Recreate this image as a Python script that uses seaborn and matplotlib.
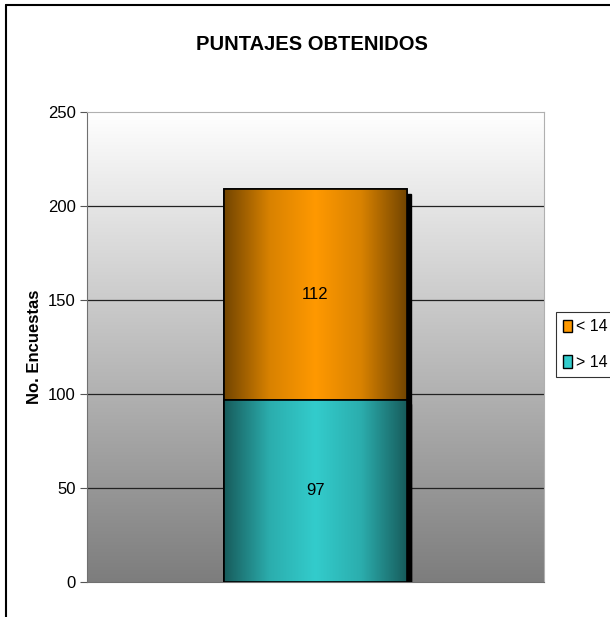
import numpy as np
import pandas as pd
import matplotlib.pyplot as plt
import matplotlib.colors as mcolors
from matplotlib.patches import Rectangle
import seaborn as sns

# data
categorias = ['< 14', '> 14']
valores = [112, 97]          # stacked: "> 14" on the bottom, "< 14" on top
colores = ['#FF9900', '#33CCCC']
yticks = [0, 50, 100, 150, 200, 250]

sns.set_style('white')
plt.rcParams['font.family'] = ['Liberation Sans', 'DejaVu Sans']
plt.rcParams['text.color'] = 'black'
plt.rcParams['axes.labelcolor'] = 'black'
plt.rcParams['ytick.color'] = 'black'

fig = plt.figure(figsize=(6.10, 6.17), dpi=100)
ax = fig.add_axes([87 / 610, 1 - 582 / 617, (544 - 87) / 610, (582 - 112) / 617])

# background gradient: white top -> gray bottom
grad = np.linspace(0, 1, 256).reshape(-1, 1)
bg = mcolors.LinearSegmentedColormap.from_list('bg', ['#7d7d7d', '#ffffff'])
ax.imshow(grad, aspect='auto', cmap=bg, extent=[-0.5, 0.5, 0, 250], origin='lower', zorder=0)

df = pd.DataFrame({'grupo': ['x', 'x'], 'serie': categorias,
                   'total': [valores[0] + valores[1], valores[1]]})

# stacked bars: full total first (orange), then bottom segment (teal) on top of it
sns.barplot(data=df.iloc[[0]], x='grupo', y='total', color=colores[0], width=0.4,
            edgecolor='black', linewidth=1.2, ax=ax, zorder=3)
sns.barplot(data=df.iloc[[1]], x='grupo', y='total', color=colores[1], width=0.4,
            edgecolor='black', linewidth=1.2, ax=ax, zorder=4)

def oscuro(c, f):
    r, g, b = mcolors.to_rgb(c)
    return (r * f, g * f, b * f)

# horizontal shading inside the bars + drop shadow
bars = list(ax.patches)
for i, p in enumerate(bars):
    x0, w = p.get_x(), p.get_width()
    y0, h = p.get_y(), p.get_height()
    c = colores[i]
    cm = mcolors.LinearSegmentedColormap.from_list(
        'b%d' % i, [oscuro(c, 0.45), oscuro(c, 0.85), c, oscuro(c, 0.85), oscuro(c, 0.45)])
    ax.add_patch(Rectangle((x0 + 0.008, y0 - 2.5), w, h, color='black', zorder=2 + i))
    im = ax.imshow(np.linspace(0, 1, 256).reshape(1, -1), aspect='auto', cmap=cm,
                   extent=[x0, x0 + w, y0, y0 + h], zorder=3.5 + i)
    im.set_clip_path(p)
    ax.add_patch(Rectangle((x0, y0), w, h, fill=False, edgecolor='black',
                           linewidth=1.2, zorder=3.6 + i))

# value labels
ax.text(0, valores[1] + valores[0] / 2, str(valores[0]), ha='center', va='center', fontsize=12, zorder=10)
ax.text(0, valores[1] / 2, str(valores[1]), ha='center', va='center', fontsize=12, zorder=10)

ax.set_xlim(-0.5, 0.5)
ax.set_ylim(0, 250)
ax.set_yticks(yticks)
ax.set_yticklabels([str(t) for t in yticks], fontsize=12)
for t in yticks[1:-1]:
    ax.axhline(t, color='#222222', linewidth=0.9, zorder=1)
ax.tick_params(axis='y', left=True, length=5, width=0.8, color='#555555', pad=3)
ax.set_xticks([])
ax.set_xlabel('')
ax.set_ylabel('No. Encuestas', fontsize=12, fontweight='bold', labelpad=4)
for s in ['top', 'right']:
    ax.spines[s].set_color('#b0b0b0')
for s in ['left', 'bottom']:
    ax.spines[s].set_color('#707070')

fig.text(312 / 610, 1 - 45 / 617, 'PUNTAJES OBTENIDOS', ha='center', va='center',
         fontsize=14.5, fontweight='bold')

# legend
handles = [Rectangle((0, 0), 1, 1, facecolor=colores[0], edgecolor='black'),
           Rectangle((0, 0), 1, 1, facecolor=colores[1], edgecolor='black')]
leg = fig.legend(handles, categorias, loc='upper left', bbox_to_anchor=(556 / 610, 1 - 312 / 617),
                 frameon=True, fancybox=False, edgecolor='black', fontsize=11.5,
                 handlelength=0.55, handleheight=0.8, handletextpad=0.25, labelspacing=1.3,
                 borderpad=0.45, borderaxespad=0)
leg.get_frame().set_linewidth(0.8)

# outer frame lines (top and left)
fig.add_artist(plt.Line2D([6 / 610, 1], [1 - 5 / 617, 1 - 5 / 617], color='black', linewidth=1.5))
fig.add_artist(plt.Line2D([6 / 610, 6 / 610], [0, 1 - 5 / 617], color='black', linewidth=1.5))

fig.savefig('out.png', dpi=100)
